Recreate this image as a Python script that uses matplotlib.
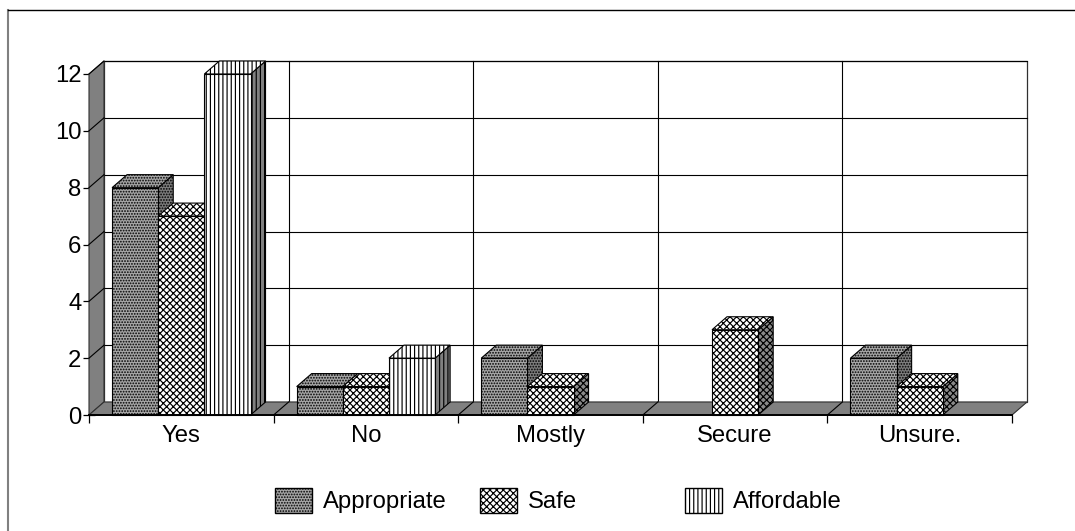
import numpy as np
import matplotlib
matplotlib.use('Agg')
import matplotlib.pyplot as plt
from matplotlib.patches import Polygon, Rectangle

categories = ['Yes', 'No', 'Mostly', 'Secure', 'Unsure.']
appropriate = [8, 1, 2, 0, 2]
safe = [7, 1, 1, 3, 1]
affordable = [12, 2, 0, 0, 0]
series_names = ['Appropriate', 'Safe', 'Affordable']
y_ticks = [0, 2, 4, 6, 8, 10, 12]

W, H = 1075, 531
GREY = '#808080'
FS = 17.2

plt.rcParams['font.family'] = ['Liberation Sans', 'DejaVu Sans']
plt.rcParams['hatch.linewidth'] = 0.85

fig = plt.figure(figsize=(W / 100, H / 100), dpi=100)
ax = fig.add_axes([89 / W, 1 - 415 / H, 923 / W, 341 / H])
ax.set_xlim(0, 5)
ax.set_ylim(0, 12)
ax.patch.set_visible(False)

# depth of the 3d box, in data units
dx = 15 / (923 / 5)
dy = 13 / (341 / 12)
bar_w = 0.25


def poly(pts, z, **kw):
    p = Polygon(pts, closed=True, clip_on=False, zorder=z, joinstyle='miter', **kw)
    ax.add_patch(p)
    return p


def box(x0, h, style, z):
    x1 = x0 + bar_w
    # side, top, then front
    poly([(x1, 0), (x1 + dx, dy), (x1 + dx, h + dy), (x1, h)], z, edgecolor='black', linewidth=0.8,
         facecolor=style['side'], hatch=style['hatch'])
    poly([(x0, h), (x0 + dx, h + dy), (x1 + dx, h + dy), (x1, h)], z, edgecolor='black', linewidth=0.8,
         facecolor=style['top'], hatch=style['hatch'])
    poly([(x0, 0), (x1, 0), (x1, h), (x0, h)], z + 0.1, edgecolor='black', linewidth=0.8,
         facecolor=style['front'], hatch=style['hatch'])


styles = [
    {'front': '#a6a6a6', 'top': '#a6a6a6', 'side': '#7c7c7c', 'hatch': '......'},
    {'front': 'white', 'top': 'white', 'side': '#8a8a8a', 'hatch': 'xxxxx'},
    {'front': 'white', 'top': 'white', 'side': GREY, 'hatch': '||||'},
]
hatch_colors = ['#6a6a6a', 'black', 'black']

# back wall, gridlines, left wall and floor
poly([(dx, dy), (5 + dx, dy), (5 + dx, 12 + dy), (dx, 12 + dy)], 1, facecolor='white', edgecolor='#303030', linewidth=0.9)
for v in y_ticks[1:]:
    ax.plot([dx, 5 + dx], [v + dy, v + dy], color='black', lw=0.8, clip_on=False, zorder=1.5)
    ax.plot([0, dx], [v, v + dy], color='black', lw=0.8, clip_on=False, zorder=2.5)
for i in range(1, 5):
    ax.plot([i + dx, i + dx], [dy, 12 + dy], color='black', lw=0.8, clip_on=False, zorder=1.5)
poly([(0, 0), (dx, dy), (dx, 12 + dy), (0, 12)], 2, facecolor=GREY, edgecolor='#303030', linewidth=0.8)
poly([(0, 0), (5, 0), (5 + dx, dy), (dx, dy)], 2, facecolor=GREY, edgecolor='#303030', linewidth=0.8)
for i in range(1, 5):
    ax.plot([i, i + dx], [0, dy], color='black', lw=0.8, clip_on=False, zorder=2.5)

# bars, drawn left to right so neighbours overlap properly
z = 3
for c in range(5):
    for s, vals in enumerate([appropriate, safe, affordable]):
        if vals[c] > 0:
            plt.rcParams['hatch.color'] = hatch_colors[s]
            box(c + 0.125 + s * bar_w, vals[c], styles[s], z)
        z += 1

for side in ['top', 'right', 'left']:
    ax.spines[side].set_visible(False)
ax.spines['bottom'].set_linewidth(1.4)
ax.spines['bottom'].set_zorder(40)
ax.set_xticks(range(6))
ax.set_xticklabels([])
ax.set_yticks(y_ticks)
ax.tick_params(axis='y', length=9, width=0.9, labelsize=FS, pad=1, direction='inout')
ax.tick_params(axis='x', length=6, width=0.9, direction='out')
for i, c in enumerate(categories):
    ax.text(i + 0.5, -0.34, c, ha='center', va='top', fontsize=FS, clip_on=False)

# legend
leg_x = [275, 480, 685]
for name, lx, st, hc in zip(series_names, leg_x, styles, hatch_colors):
    plt.rcParams['hatch.color'] = hc
    fig.add_artist(Rectangle((lx / W, 1 - 513 / H), 37 / W, 25 / H, transform=fig.transFigure,
                             facecolor=st['front'], edgecolor='black', lw=1, hatch=st['hatch']))
    fig.text((lx + 48) / W, 1 - 502 / H, name, ha='left', va='center', fontsize=FS)

# outer frame
fig.add_artist(plt.Line2D([8 / W, 8 / W], [0, 1 - 10 / H], color=GREY, lw=1.5, transform=fig.transFigure))
fig.add_artist(plt.Line2D([8 / W, 1], [1 - 10 / H, 1 - 10 / H], color='black', lw=1, transform=fig.transFigure))

fig.savefig('out.png', dpi=100)
